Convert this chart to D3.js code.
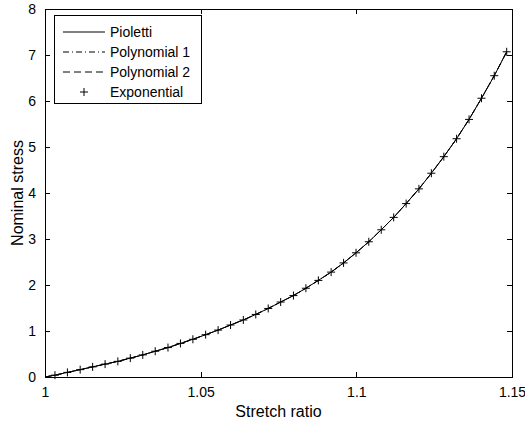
<!DOCTYPE html>
<html>
<head>
<meta charset="utf-8">
<script src="https://cdn.jsdelivr.net/npm/d3@7/dist/d3.min.js"></script>
<style>
  html, body { margin: 0; padding: 0; background: #fff; }
  svg { display: block; }
  text { font-family: "Liberation Sans", Arial, sans-serif; fill: #000; }
</style>
</head>
<body>
<svg id="chart" width="525" height="425"></svg>
<script>
// ---- data ----
const stretch = [1.0032, 1.0072, 1.0113, 1.0153, 1.0193, 1.0234, 1.0274, 1.0314, 1.0354, 1.0395,
                 1.0435, 1.0475, 1.0516, 1.0556, 1.0596, 1.0637, 1.0677, 1.0717, 1.0757, 1.0798,
                 1.0838, 1.0878, 1.0919, 1.0959, 1.0999, 1.1040, 1.1080, 1.1120, 1.1160, 1.1201,
                 1.1241, 1.1281, 1.1322, 1.1362, 1.1402, 1.1443, 1.1483];
const pioletti = [0.04, 0.10, 0.16, 0.22, 0.28, 0.34, 0.41, 0.48, 0.56, 0.64,
                  0.73, 0.82, 0.92, 1.02, 1.13, 1.24, 1.36, 1.49, 1.63, 1.77,
                  1.93, 2.10, 2.28, 2.48, 2.70, 2.94, 3.20, 3.47, 3.77, 4.09,
                  4.43, 4.79, 5.18, 5.60, 6.06, 6.55, 7.07];
const polynomial1 = pioletti.slice();
const polynomial2 = pioletti.slice();
const exponential = pioletti.slice();
const lineStartStretch = 1.0;
const lineStartStress = 0;
const xTicks = [1, 1.05, 1.1, 1.15];
const xTickLabels = ["1", "1.05", "1.1", "1.15"];
const yTicks = [0, 1, 2, 3, 4, 5, 6, 7, 8];
const legendNames = ["Pioletti", "Polynomial 1", "Polynomial 2", "Exponential"];

// ---- layout ----
const svg = d3.select("#chart");
const L = 45, R = 512, T = 9, B = 377;
const x = d3.scaleLinear().domain([1, 1.15]).range([L, R]);
const y = d3.scaleLinear().domain([0, 8]).range([B, T]);

// axes box
svg.append("rect").attr("x", L).attr("y", T).attr("width", R - L).attr("height", B - T)
  .attr("fill", "#fff").attr("stroke", "none");

const tickLen = 5;
const g = svg.append("g").attr("shape-rendering", "crispEdges");

// bottom axis
const xb = svg.append("g").attr("transform", `translate(0,${B})`)
  .call(d3.axisBottom(x).tickValues(xTicks).tickSizeInner(-tickLen).tickSizeOuter(0)
        .tickPadding(10).tickFormat((d, i) => xTickLabels[i]));
// top axis
const xt = svg.append("g").attr("transform", `translate(0,${T})`)
  .call(d3.axisTop(x).tickValues(xTicks).tickSizeInner(-tickLen).tickSizeOuter(0).tickFormat(""));
// left axis
const yl = svg.append("g").attr("transform", `translate(${L},0)`)
  .call(d3.axisLeft(y).tickValues(yTicks).tickSizeInner(-tickLen).tickSizeOuter(0)
        .tickPadding(9).tickFormat(d3.format("d")));
// right axis
const yr = svg.append("g").attr("transform", `translate(${R},0)`)
  .call(d3.axisRight(y).tickValues(yTicks).tickSizeInner(-tickLen).tickSizeOuter(0).tickFormat(""));

[xb, xt, yl, yr].forEach(a => {
  a.selectAll("path.domain").attr("stroke", "#000").attr("stroke-width", 1).attr("shape-rendering", "crispEdges");
  a.selectAll(".tick line").attr("stroke", "#000").attr("shape-rendering", "crispEdges");
  a.selectAll(".tick text").attr("font-size", "14px").attr("font-family", "Liberation Sans, Arial, sans-serif").attr("fill", "#000");
});
xb.selectAll(".tick text").attr("dy", "0.71em");

// axis labels
svg.append("text").attr("x", (L + R) / 2).attr("y", 417).attr("text-anchor", "middle")
  .attr("font-size", "16px").text("Stretch ratio");
svg.append("text").attr("transform", `translate(23,${(T + B) / 2}) rotate(-90)`)
  .attr("text-anchor", "middle").attr("font-size", "16px").text("Nominal stress");

// ---- series ----
const line = d3.line().x(d => x(d[0])).y(d => y(d[1]));
function withStart(vals) {
  return [[lineStartStretch, lineStartStress]].concat(stretch.map((s, i) => [s, vals[i]]));
}
const plot = svg.append("g");
plot.append("path").datum(withStart(pioletti)).attr("d", line)
  .attr("fill", "none").attr("stroke", "#000").attr("stroke-width", 1);
plot.append("path").datum(withStart(polynomial1)).attr("d", line)
  .attr("fill", "none").attr("stroke", "#000").attr("stroke-width", 1).attr("stroke-dasharray", "6,3,1,3");
plot.append("path").datum(withStart(polynomial2)).attr("d", line)
  .attr("fill", "none").attr("stroke", "#000").attr("stroke-width", 1).attr("stroke-dasharray", "7,4");

const ms = 4;
const plus = (cx, cy) => `M${cx - ms},${cy}H${cx + ms}M${cx},${cy - ms}V${cy + ms}`;
plot.selectAll("path.mk").data(stretch.map((s, i) => [s, exponential[i]])).enter()
  .append("path").attr("class", "mk")
  .attr("d", d => plus(x(d[0]), y(d[1])))
  .attr("stroke", "#000").attr("stroke-width", 1).attr("fill", "none");

// ---- legend ----
const lg = svg.append("g");
lg.append("rect").attr("x", 54.5).attr("y", 15.5).attr("width", 147).attr("height", 88)
  .attr("fill", "#fff").attr("stroke", "#000").attr("stroke-width", 1);
const rowY = [32, 52, 72, 92];
const dashes = [null, "6,3,1,3", "7,4", null];
legendNames.forEach((name, i) => {
  if (i < 3) {
    const ln = lg.append("line").attr("x1", 63).attr("x2", 105).attr("y1", rowY[i]).attr("y2", rowY[i])
      .attr("stroke", "#000").attr("stroke-width", 1);
    if (dashes[i]) ln.attr("stroke-dasharray", dashes[i]);
  } else {
    lg.append("path").attr("d", plus(84, rowY[i])).attr("stroke", "#000").attr("fill", "none");
  }
  lg.append("text").attr("x", 110).attr("y", rowY[i]).attr("dy", "0.35em")
    .attr("font-size", "14px").text(name);
});
</script>
</body>
</html>
